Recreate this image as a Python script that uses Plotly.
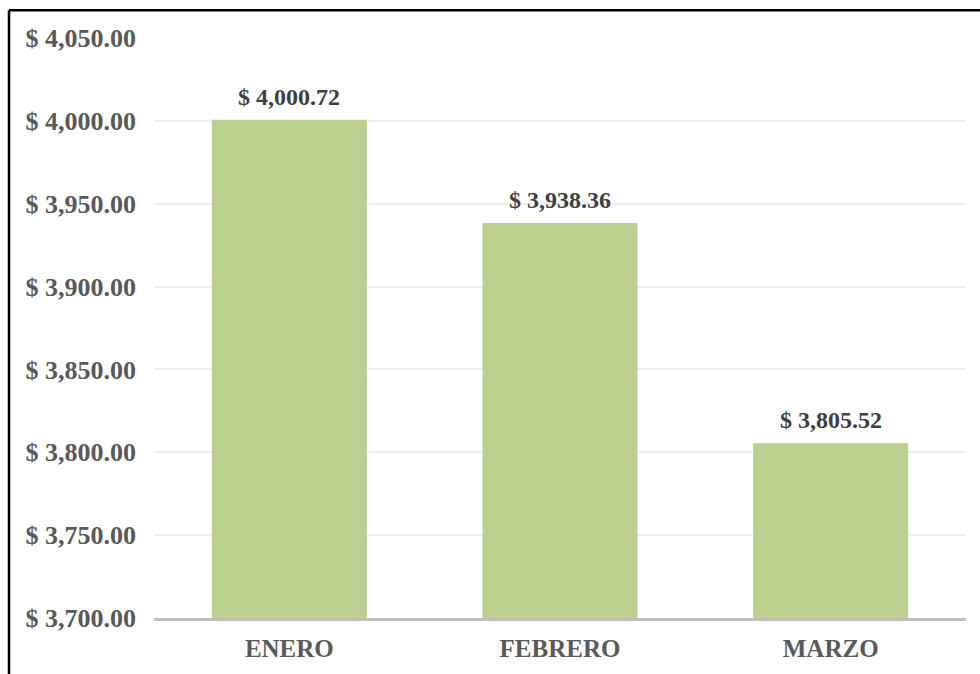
import plotly.graph_objects as go

categories = ["ENERO", "FEBRERO", "MARZO"]
values = [4000.72, 3938.36, 3805.52]
labels = ["$ 4,000.72", "$ 3,938.36", "$ 3,805.52"]
tick_vals = [3700, 3750, 3800, 3850, 3900, 3950, 4000, 4050]
tick_text = ["$ 3,700.00", "$ 3,750.00", "$ 3,800.00", "$ 3,850.00",
             "$ 3,900.00", "$ 3,950.00", "$ 4,000.00", "$ 4,050.00"]

FONT = "Liberation Serif"
W, H = 980, 674
L, R, T, B = 154, 14, 38, 51
PW, PH = W - L - R, H - T - B

fig = go.Figure(go.Bar(
    x=categories, y=values,
    marker=dict(color="#BBD08F", line=dict(width=0)),
    width=0.573, hoverinfo="x+y",
))

for c, v, t in zip(categories, values, labels):
    fig.add_annotation(x=c, y=v, text=t, showarrow=False, yanchor="bottom",
                       yshift=8,
                       font=dict(family=FONT, size=24, color="#404040", weight="bold"))

fx = (9 - L) / PW
fy = (PH + T - 10) / PH

fig.update_layout(
    width=W, height=H,
    margin=dict(l=L, r=R, t=T, b=B),
    paper_bgcolor="white", plot_bgcolor="white",
    showlegend=False,
    font=dict(family=FONT),
    xaxis=dict(
        showgrid=False, showline=True, linecolor="#BFBFBF", linewidth=2.5,
        ticks="", tickfont=dict(family=FONT, size=25, color="#595959", weight="bold"),
        ticklabelstandoff=6,
    ),
    yaxis=dict(
        range=[3700, 4050], tickvals=tick_vals, ticktext=tick_text,
        showgrid=True, gridcolor="#EFEFEF", gridwidth=1.5,
        zeroline=False, showline=False,
        tickfont=dict(family=FONT, size=26, color="#595959", weight="bold"),
        ticklabelstandoff=17,
    ),
    shapes=[
        dict(type="line", xref="paper", yref="paper",
             x0=fx, x1=1.1, y0=fy, y1=fy,
             line=dict(color="black", width=2.5)),
        dict(type="line", xref="paper", yref="paper",
             x0=fx, x1=fx, y0=fy, y1=-0.2,
             line=dict(color="black", width=2.5)),
    ],
)

fig.write_html(
    "out.html",
    config={"displayModeBar": False},
    post_script="document.body.style.margin='0';document.body.style.overflow='hidden';",
)
